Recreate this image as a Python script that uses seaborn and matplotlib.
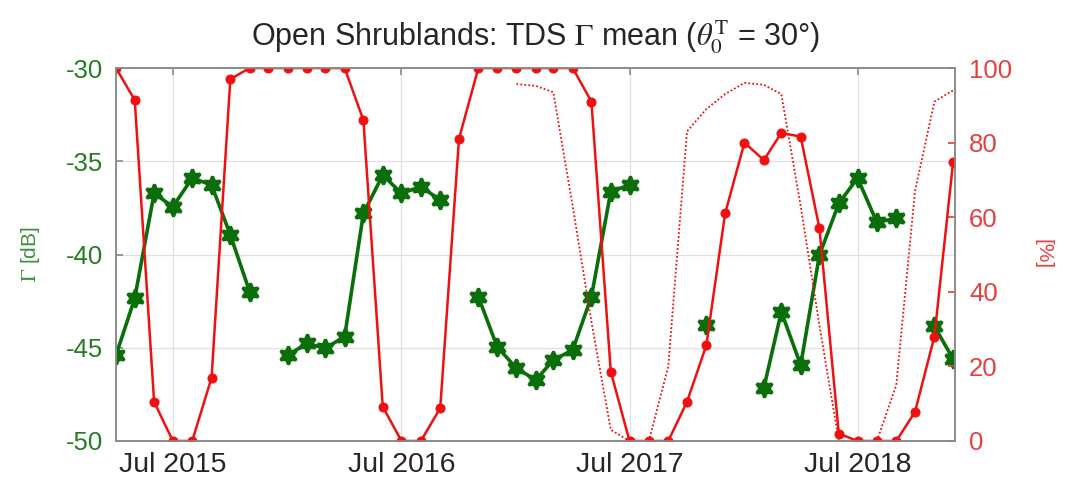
import numpy as np
import pandas as pd
import matplotlib
matplotlib.use("Agg")
import matplotlib.pyplot as plt
import seaborn as sns

# ---------------- data ----------------
months = pd.date_range("2015-04-01", "2018-12-01", freq="MS")

gamma_db = [
    -45.4, -42.35, -36.72, -37.44, -35.9, -36.27, -38.95, -42.0, np.nan,
    -45.4, -44.76, -45.03, -44.4, -37.8, -35.74, -36.72, -36.36, -37.08, np.nan,
    -42.26, -44.94, -46.1, -46.73, -45.66, -45.12, -42.26, -36.63, -36.27,
    np.nan, np.nan, np.nan, -43.78, np.nan, np.nan,
    -47.16, -43.07, -45.93, -40.03, -37.26, -35.9, -38.28, -38.05, np.nan,
    -43.85, -45.6,
]

pct_solid = [
    100, 91.4, 10.5, 0, 0, 17, 97, 100, 100,
    100, 100, 100, 100, 86, 9.2, 0, 0, 8.8, 81, 100, 100,
    100, 100, 100, 100, 91, 18.6, 0, 0, 0, 10.5, 25.7, 61,
    80, 75.3, 82.6, 81.6, 57, 2, 0, 0, 0, 7.8, 28, 74.8,
]

dotted_months = pd.date_range("2017-01-01", "2018-12-01", freq="MS")
pct_dotted = [
    95.7, 95.2, 93.5, 63, 32, 3, 0, 0, 20, 83, 89, 93,
    96, 95.5, 93, 63, 31, 0, 0, 0, 15, 67, 91, 94,
]

xtick_dates = pd.to_datetime(["2015-07-01", "2016-07-01", "2017-07-01", "2018-07-01"])
xtick_labels = ["Jul 2015", "Jul 2016", "Jul 2017", "Jul 2018"]
left_ticks = [-50, -45, -40, -35, -30]
right_ticks = [0, 20, 40, 60, 80, 100]

title = r"Open Shrublands: TDS $\Gamma$ mean ($\theta_0^{\mathrm{T}}$ = 30°)"

# ---------------- frames ----------------
dfg = pd.DataFrame({"date": months, "gamma": gamma_db})
dfg["seg"] = dfg["gamma"].isna().cumsum()
dfg = dfg.dropna()

dfr = pd.DataFrame({"date": months, "pct": pct_solid})
dfd = pd.DataFrame({"date": dotted_months, "pct": pct_dotted})

# ---------------- style ----------------
sns.set_theme(style="white")
plt.rcParams["font.family"] = ["Liberation Sans", "DejaVu Sans"]
plt.rcParams["mathtext.fontset"] = "stix"

GREEN = "#0a6e0a"
GREEN_TXT = "#237d23"
RED = "#f01010"
RED_TXT = "#e44040"
GRAY = "#8c8c8c"

fig = plt.figure(figsize=(10.66, 4.87), dpi=100)
ax = fig.add_axes([116 / 1066, 1 - 441 / 487, (955 - 116) / 1066, (441 - 68) / 487])
ax2 = ax.twinx()

sns.lineplot(data=dfg, x="date", y="gamma", units="seg", estimator=None,
             color=GREEN, lw=2.6, marker=(6, 1, 0), markersize=13,
             markeredgecolor=GREEN, markerfacecolor=GREEN, markeredgewidth=2.2,
             ax=ax, legend=False)

sns.lineplot(data=dfd, x="date", y="pct", estimator=None, color=RED, lw=1.3,
             linestyle=(0, (1, 1.2)), ax=ax2, legend=False)
sns.lineplot(data=dfr, x="date", y="pct", estimator=None, color=RED, lw=1.8,
             marker="o", markersize=6.5, markeredgecolor=RED, markerfacecolor=RED,
             ax=ax2, legend=False)

# x axis
ax.set_xlim(pd.Timestamp("2015-04-01"), pd.Timestamp("2018-12-04"))
ax.set_xticks(xtick_dates)
ax.set_xticklabels(xtick_labels)
ax.set_xlabel("")
ax.tick_params(axis="x", direction="in", length=5, color=GRAY, labelsize=20.5,
               labelcolor="#262626", pad=8, top=True)

# left axis
ax.set_ylim(-50, -30)
ax.set_yticks(left_ticks)
ax.set_yticklabels([str(t) for t in left_ticks])
ax.tick_params(axis="y", direction="in", length=5, color=GRAY, labelsize=18.5,
               labelcolor=GREEN_TXT, pad=9)
ax.set_ylabel(r"$\Gamma$ [dB]", color="#3c903c", fontsize=15)
ax.yaxis.set_label_coords(-0.088, 0.5)
ax.grid(True, color="#e0e0e0", lw=0.9)

# right axis
ax2.set_ylim(0, 100)
ax2.set_yticks(right_ticks)
ax2.set_yticklabels([str(t) for t in right_ticks])
ax2.tick_params(axis="y", direction="in", length=5, color=RED_TXT, labelsize=18.5,
                labelcolor=RED_TXT, pad=10)
ax2.set_ylabel("[%]", color=RED_TXT, fontsize=15, rotation=-90, va="bottom")
ax2.yaxis.set_label_coords(1.094, 0.5)
ax2.grid(False)

for a in (ax, ax2):
    for s in a.spines.values():
        s.set_color(GRAY)
        s.set_linewidth(1.2)

ax.set_title(title, fontsize=22, color="#262626", pad=16)

fig.savefig("out.png", dpi=100)
